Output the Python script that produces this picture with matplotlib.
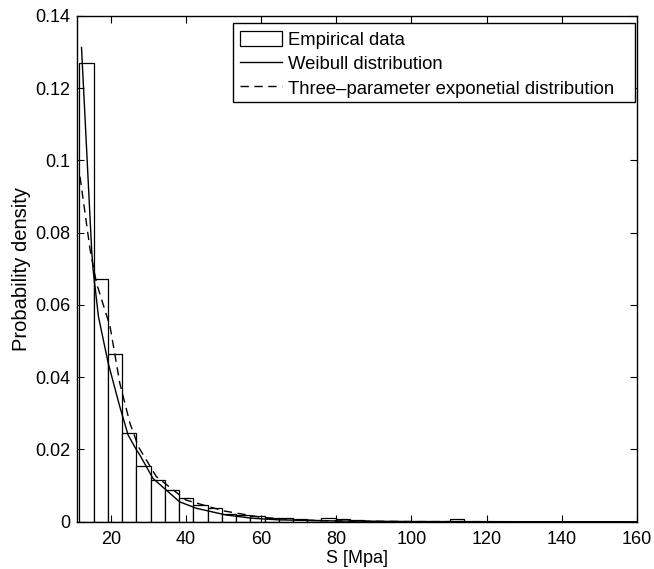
import numpy as np
import matplotlib
matplotlib.use("Agg")
import matplotlib.pyplot as plt
from matplotlib.patches import Rectangle

plt.rcParams['font.family'] = ['Liberation Sans', 'DejaVu Sans']

# Histogram (empirical data): bin start, bin width, density per bin
bin_start = 11.62
bin_width = 3.79
density = [0.127, 0.0671, 0.0463, 0.0245, 0.0154, 0.0116, 0.0087, 0.0065,
           0.0045, 0.0037, 0.0022, 0.0019, 0.0016, 0.0011, 0.0011, 0.0008,
           0.0004, 0.0009, 0.0007, 0.0006, 0.0003, 0.0, 0.0, 0.0, 0.0,
           0.0, 0.0007, 0.0, 0.0, 0.0, 0.0, 0.0, 0.0, 0.0, 0.0, 0.0,
           0.0, 0.0, 0.0]

# Weibull distribution curve
weib_x = [12.2, 14.9, 15.3, 16.7, 19.3, 22.4, 24.6, 26.8, 27.7, 31.2, 38.3,
          42.8, 50.7, 57.8, 65.0, 80.0, 100.0, 130.0, 160.0]
weib_y = [0.1313, 0.0752, 0.0696, 0.0568, 0.0439, 0.0318, 0.0240, 0.0199,
          0.0185, 0.0120, 0.0055, 0.0037, 0.00185, 0.00094, 0.0005, 0.0002,
          0.00005, 0.0, 0.0]

# Three-parameter exponential distribution curve
exp_x = [11.8, 14.5, 16.2, 19.8, 22.4, 25.1, 26.4, 27.3, 32.1, 40.0, 50.0,
         60.0, 70.0, 80.0, 100.0, 130.0, 160.0]
exp_y = [0.0955, 0.0752, 0.0660, 0.0540, 0.0383, 0.0272, 0.0235, 0.0208,
         0.0125, 0.0060, 0.0030, 0.0012, 0.0005, 0.0002, 0.00003, 0.0, 0.0]

xticks = [20, 40, 60, 80, 100, 120, 140, 160]
yticks = [0, 0.02, 0.04, 0.06, 0.08, 0.1, 0.12, 0.14]
ytick_labels = ['0', '0.02', '0.04', '0.06', '0.08', '0.1', '0.12', '0.14']

W, H = 654, 569
fig = plt.figure(figsize=(W / 100, H / 100), dpi=100)
ax = fig.add_axes([77 / W, 1 - 521.7 / H, 560 / W, 505.7 / H])

lefts = bin_start + bin_width * np.arange(len(density))
bars = ax.bar(lefts, density, width=bin_width, align='edge', facecolor='white',
              edgecolor='black', linewidth=0.9, label='Empirical data')
l1, = ax.plot(weib_x, weib_y, color='black', linewidth=1.0,
              label='Weibull distribution')
l2, = ax.plot(exp_x, exp_y, color='black', linewidth=1.0,
              linestyle=(0, (6, 4)),
              label='Three\u2013parameter exponetial distribution')

ax.set_xlim(11.0, 160)
ax.set_ylim(0, 0.14)
ax.set_xticks(xticks)
ax.set_yticks(yticks)
ax.set_yticklabels(ytick_labels)
ax.tick_params(direction='in', top=True, right=True, labelsize=13, length=5,
               width=0.8)
ax.tick_params(axis='x', pad=7)
ax.tick_params(axis='y', pad=5)
for s in ax.spines.values():
    s.set_linewidth(1.0)

ax.set_xlabel('S [Mpa]', fontsize=13, labelpad=1)
ax.set_ylabel('Probability density', fontsize=14.5, labelpad=3)

# legend frame (MATLAB-like box)
frame = Rectangle((233.3 / W, 1 - 101.7 / H), (635 - 233.3) / W, (101.7 - 23.3) / H,
                  transform=fig.transFigure, facecolor='white', edgecolor='black',
                  linewidth=1.0, zorder=4.9, clip_on=False)
ax.add_patch(frame)

leg = ax.legend(handles=[bars, l1, l2], loc='upper left',
                bbox_to_anchor=(239.5 / W, 1 - 30.5 / H),
                bbox_transform=fig.transFigure,
                fontsize=13.3, frameon=False, borderpad=0.0,
                handlelength=2.3, handleheight=0.95, handletextpad=0.3,
                labelspacing=0.33, borderaxespad=0.0)
leg.set_zorder(5)

fig.savefig('out.png', dpi=100)
